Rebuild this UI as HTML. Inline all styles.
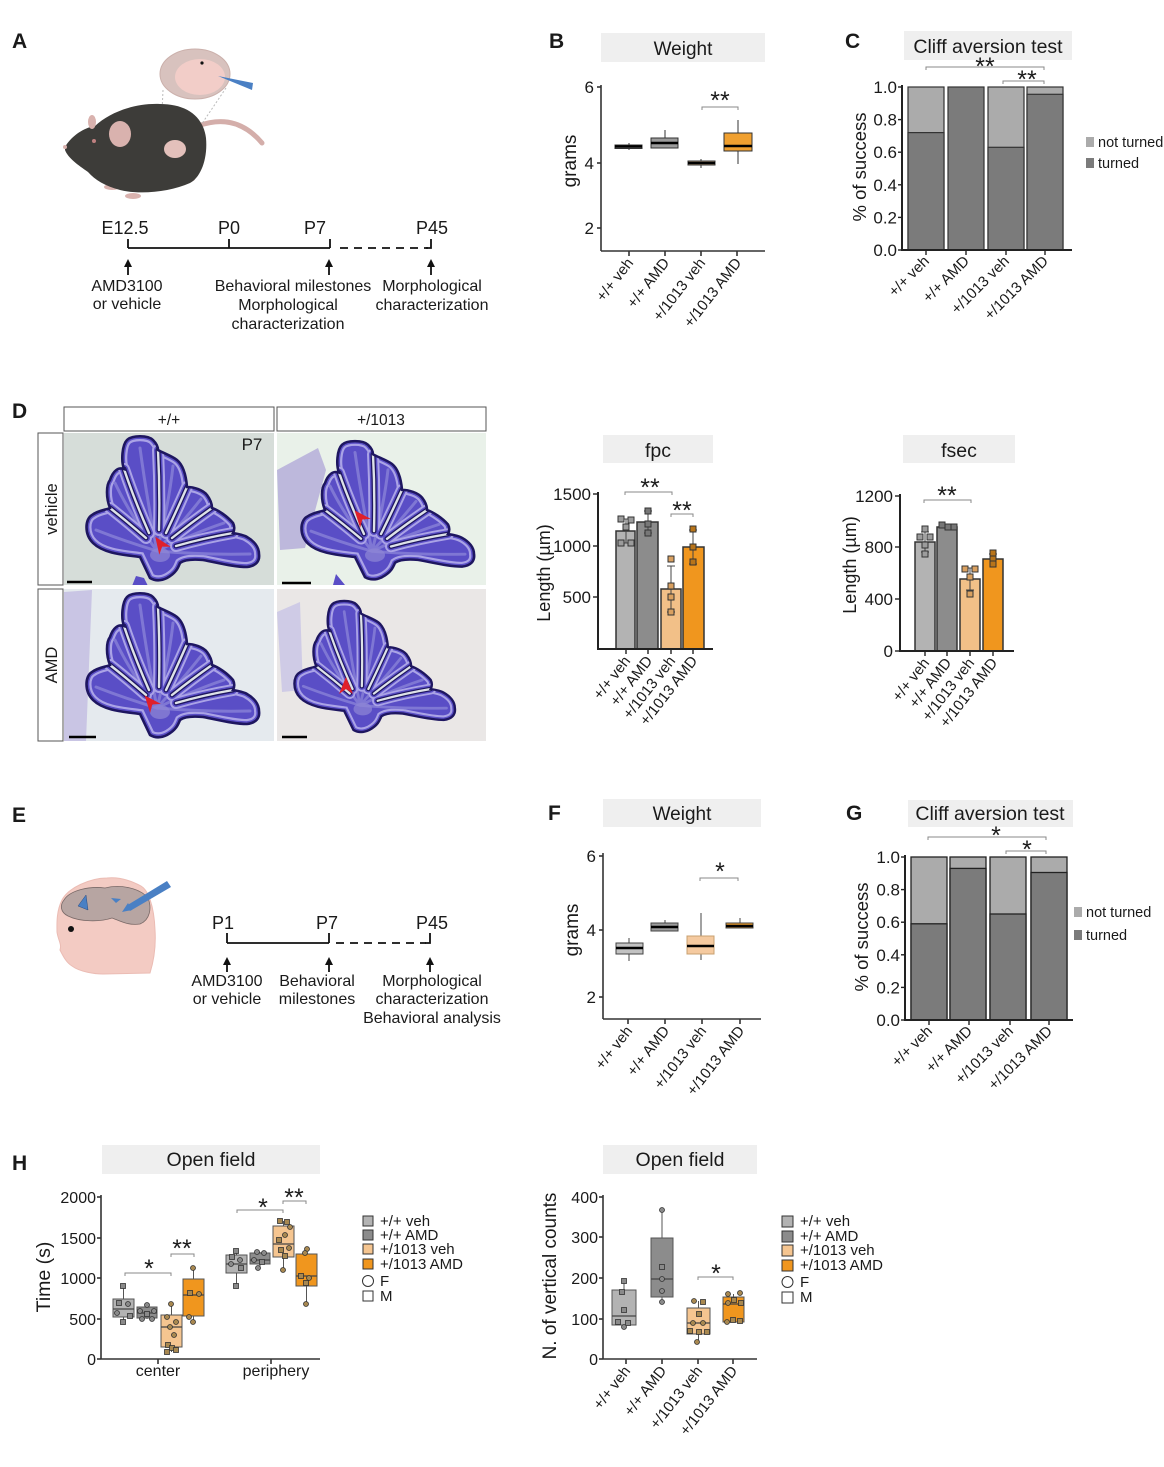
<!DOCTYPE html>
<html><head><meta charset="utf-8"><style>
html,body{margin:0;padding:0;background:#fff}
svg{display:block}
text{font-family:"Liberation Sans",Arial,sans-serif;fill:#1a1a1a}
.b{font-weight:bold}
</style></head><body>
<svg width="1164" height="1467" viewBox="0 0 1164 1467" xmlns="http://www.w3.org/2000/svg">
<defs>
<path id="cbpath" d="M86,145 L76,124 C62,122 40,121 29,110 C20,101 21,86 28,82 C35,77 42,77 46,75 C42,65 42,52 46,47 C49,38 54,34 60,36 C57,28 58,12 63,7 C68,2 84,2 89,7 C93,11 94,15 94,17 C99,20 108,23 113,27 C119,32 122,42 123,54 C130,54 139,57 143,62 C146,66 148,71 148,75 C154,77 163,83 169,90 C171,94 170,98 169,100 C175,101 180,102 183,104 C190,108 195,114 195,121 C196,128 192,133 183,134 C170,134 155,130 139,127 C128,126 120,127 116,130 C114,135 112,140 103,145 C97,148 91,148 86,145 Z"/>
<path id="fiss" d="M46,75 Q65,90 82,105 M60,36 Q70,66 85,100 M94,17 Q96,56 95,97 M123,54 Q112,79 102,100 M148,75 Q128,89 108,105 M169,100 Q140,105 112,113"/>
<clipPath id="cbclip"><use href="#cbpath"/></clipPath>
<g id="cb">
<use href="#cbpath" fill="#5a4ec6"/>
<g clip-path="url(#cbclip)">
<use href="#cbpath" fill="none" stroke="#aaa3e6" stroke-width="10"/>
<use href="#cbpath" fill="none" stroke="#5a4ec6" stroke-width="5.5"/>
<path d="M93,118 Q60,108 32,97 M93,118 Q65,80 51,50 M93,118 Q82,60 76,15 M93,118 Q105,70 109,33 M93,118 Q118,90 137,66 M93,118 Q130,100 160,90 M93,118 Q140,122 186,121" fill="none" stroke="#7f77d4" stroke-width="3" stroke-linecap="round"/>
<use href="#fiss" fill="none" stroke="#aaa3e6" stroke-width="12" stroke-linecap="round"/>
<use href="#fiss" fill="none" stroke="#5a4ec6" stroke-width="8" stroke-linecap="round"/>
<use href="#fiss" fill="none" stroke="#1e1660" stroke-width="5" stroke-linecap="round"/>
<use href="#fiss" fill="none" stroke="#dde2e6" stroke-width="2.4" stroke-linecap="round"/>
<ellipse cx="96" cy="122" rx="10" ry="7" fill="#8f88d6" opacity="0.7"/>
</g>
<use href="#cbpath" fill="none" stroke="#1e1660" stroke-width="2.6"/>
</g>
<clipPath id="c1"><rect x="64" y="433" width="210" height="152"/></clipPath>
<clipPath id="c2"><rect x="277" y="433" width="209" height="152"/></clipPath>
<clipPath id="c3"><rect x="64" y="589" width="210" height="152"/></clipPath>
<clipPath id="c4"><rect x="277" y="589" width="209" height="152"/></clipPath>
</defs>

<!-- ================= A ================= -->
<text x="12" y="48" font-size="21" class="b">A</text>
<path d="M198,126 C225,116 246,124 262,143" fill="none" stroke="#d4aeaa" stroke-width="5" stroke-linecap="round"/>
<line x1="163" y1="90" x2="162" y2="112" stroke="#bbb" stroke-dasharray="2,2"/>
<line x1="226" y1="88" x2="199" y2="128" stroke="#bbb" stroke-dasharray="2,2"/>
<ellipse cx="112" cy="187" rx="8" ry="3" fill="#d9b2ae"/>
<ellipse cx="133" cy="196" rx="8" ry="3" fill="#d9b2ae"/>
<ellipse cx="187" cy="179" rx="8" ry="3" fill="#d9b2ae"/>
<path d="M65,147 C70,138 82,128 95,126 C110,112 135,103 160,104 C185,104 203,115 206,138 C208,160 200,178 190,183 C170,192 140,195 120,190 C105,186 95,180 88,172 C78,165 68,158 65,150 Z" fill="#3d3c39"/>
<ellipse cx="92" cy="122" rx="4" ry="7" fill="#d9b2ae"/>
<ellipse cx="120" cy="134" rx="11" ry="13" fill="#d9b2ae"/>
<ellipse cx="175" cy="149" rx="11" ry="9" fill="#e3c0bb"/>
<circle cx="65" cy="147" r="2" fill="#d9b2ae"/>
<circle cx="94" cy="141" r="2" fill="#c08080"/>
<ellipse cx="195" cy="74" rx="35" ry="25" fill="#d8c2be" stroke="#cbb0ab"/>
<ellipse cx="200" cy="77" rx="25" ry="18" fill="#f2cdc8"/>
<circle cx="202" cy="63" r="1.6" fill="#111"/>
<polygon points="218,76 253,83 252,90" fill="#4a80c4"/>
<g stroke="#111" stroke-width="1.8" fill="none">
<line x1="128" y1="248" x2="330" y2="248"/>
<line x1="128" y1="239" x2="128" y2="248"/>
<line x1="229" y1="239" x2="229" y2="248"/>
<line x1="330" y1="239" x2="330" y2="248"/>
<line x1="340" y1="248" x2="428" y2="248" stroke-dasharray="8,6"/>
<polyline points="426,248 431,248 431,239"/>
<line x1="128" y1="264" x2="128" y2="275"/>
<line x1="329" y1="264" x2="329" y2="275"/>
<line x1="431" y1="264" x2="431" y2="275"/>
</g>
<g fill="#111">
<polygon points="124,267 128,259 132,267"/>
<polygon points="325,267 329,259 333,267"/>
<polygon points="427,267 431,259 435,267"/>
</g>
<g font-size="18" text-anchor="middle">
<text x="125" y="234">E12.5</text>
<text x="229" y="234">P0</text>
<text x="315" y="234">P7</text>
<text x="432" y="234">P45</text>
</g>
<g font-size="16" text-anchor="middle" style="fill:#222">
<text x="127" y="291">AMD3100</text>
<text x="127" y="309">or vehicle</text>
<text x="293" y="291">Behavioral milestones</text>
<text x="288" y="310">Morphological</text>
<text x="288" y="329">characterization</text>
<text x="432" y="291">Morphological</text>
<text x="432" y="310">characterization</text>
</g>

<!-- ================= B ================= -->
<text x="549" y="48" font-size="21" class="b">B</text>
<rect x="601" y="33" width="164" height="29" fill="#efefef"/>
<text x="683" y="55" font-size="19" text-anchor="middle">Weight</text>
<g stroke="#333" stroke-width="1.6">
<line x1="601" y1="85" x2="601" y2="251"/>
<line x1="601" y1="251" x2="765" y2="251"/>
<line x1="597" y1="87" x2="601" y2="87"/>
<line x1="597" y1="163" x2="601" y2="163"/>
<line x1="597" y1="228" x2="601" y2="228"/>
<line x1="629" y1="251" x2="629" y2="256"/>
<line x1="665" y1="251" x2="665" y2="256"/>
<line x1="701" y1="251" x2="701" y2="256"/>
<line x1="737" y1="251" x2="737" y2="256"/>
</g>
<g font-size="17" text-anchor="end">
<text x="594" y="93">6</text><text x="594" y="169">4</text><text x="594" y="234">2</text>
</g>
<text transform="translate(576,161) rotate(-90)" font-size="19" text-anchor="middle">grams</text>
<g stroke="#333" stroke-width="1">
<line x1="629" y1="143" x2="629" y2="150"/>
<rect x="615" y="145" width="27" height="3.5" fill="#b3b3b3"/>
<line x1="665" y1="130" x2="665" y2="138"/>
<rect x="651" y="138" width="27" height="10" fill="#9c9c9c"/>
<line x1="701" y1="159" x2="701" y2="168"/>
<rect x="688" y="161" width="27" height="4" fill="#f3c898"/>
<line x1="738" y1="120" x2="738" y2="164"/>
<rect x="724" y="133" width="28" height="18" fill="#f0a030"/>
</g>
<g stroke="#000" stroke-width="2.6">
<line x1="615" y1="146.5" x2="642" y2="146.5"/>
<line x1="651" y1="143" x2="678" y2="143"/>
<line x1="688" y1="163" x2="715" y2="163"/>
<line x1="724" y1="146" x2="752" y2="146"/>
</g>
<polyline points="702,110 702,107 738,107 738,110" fill="none" stroke="#888" stroke-width="1"/>
<text x="720" y="109" font-size="25" text-anchor="middle">**</text>
<g font-size="15" text-anchor="end">
<text transform="translate(634,263) rotate(-52)">+/+ veh</text>
<text transform="translate(670,263) rotate(-52)">+/+ AMD</text>
<text transform="translate(706,263) rotate(-52)">+/1013 veh</text>
<text transform="translate(742,263) rotate(-52)">+/1013 AMD</text>
</g>

<!-- ================= C ================= -->
<text x="845" y="48" font-size="21" class="b">C</text>
<rect x="904" y="31" width="168" height="29" fill="#efefef"/>
<text x="988" y="53" font-size="19.5" text-anchor="middle">Cliff aversion test</text>
<g stroke="#333" stroke-width="1.2">
<rect x="908" y="87" width="36" height="163" fill="#ababab"/>
<rect x="908" y="132.6" width="36" height="117.4" fill="#7b7b7b"/>
<rect x="948" y="87" width="36" height="163" fill="#7b7b7b"/>
<rect x="988" y="87" width="36" height="163" fill="#ababab"/>
<rect x="988" y="147.3" width="36" height="102.7" fill="#7b7b7b"/>
<rect x="1027" y="87" width="36" height="163" fill="#ababab"/>
<rect x="1027" y="94.3" width="36" height="155.7" fill="#7b7b7b"/>
</g>
<g stroke="#222" stroke-width="2">
<line x1="902" y1="85" x2="902" y2="251"/>
<line x1="901" y1="250" x2="1072" y2="250"/>
</g>
<g stroke="#222" stroke-width="1.4">
<line x1="898" y1="87" x2="902" y2="87"/><line x1="898" y1="119.6" x2="902" y2="119.6"/>
<line x1="898" y1="152.2" x2="902" y2="152.2"/><line x1="898" y1="184.8" x2="902" y2="184.8"/>
<line x1="898" y1="217.4" x2="902" y2="217.4"/><line x1="898" y1="250" x2="902" y2="250"/>
<line x1="926" y1="250" x2="926" y2="255"/><line x1="966" y1="250" x2="966" y2="255"/>
<line x1="1006" y1="250" x2="1006" y2="255"/><line x1="1045" y1="250" x2="1045" y2="255"/>
</g>
<g font-size="17" text-anchor="end">
<text x="897" y="93">1.0</text><text x="897" y="125.6">0.8</text><text x="897" y="158.2">0.6</text>
<text x="897" y="190.8">0.4</text><text x="897" y="223.4">0.2</text><text x="897" y="256">0.0</text>
</g>
<text transform="translate(866,167) rotate(-90)" font-size="18.5" text-anchor="middle">% of success</text>
<g fill="none" stroke="#888" stroke-width="1">
<polyline points="926,70 926,67 1044,67 1044,70"/>
<polyline points="1003,84 1003,81 1044,81 1044,84"/>
</g>
<text x="985" y="75" font-size="25" text-anchor="middle">**</text>
<text x="1027" y="88" font-size="25" text-anchor="middle">**</text>
<rect x="1086" y="137" width="8" height="10" fill="#ababab"/>
<text x="1098" y="147" font-size="14.5">not turned</text>
<rect x="1086" y="158" width="8" height="10" fill="#7b7b7b"/>
<text x="1098" y="168" font-size="14.5">turned</text>
<g font-size="15" text-anchor="end">
<text transform="translate(930,262) rotate(-45)">+/+ veh</text>
<text transform="translate(970,262) rotate(-45)">+/+ AMD</text>
<text transform="translate(1010,262) rotate(-45)">+/1013 veh</text>
<text transform="translate(1049,262) rotate(-45)">+/1013 AMD</text>
</g>

<!-- ================= D ================= -->
<text x="12" y="418" font-size="21" class="b">D</text>
<g fill="#fff" stroke="#555" stroke-width="1">
<rect x="64" y="407" width="210" height="24"/>
<rect x="277" y="407" width="209" height="24"/>
<rect x="38" y="433" width="25" height="152"/>
<rect x="38" y="589" width="25" height="152"/>
</g>
<text x="169" y="425" font-size="15.5" text-anchor="middle">+/+</text>
<text x="381" y="425" font-size="15.5" text-anchor="middle">+/1013</text>
<text transform="translate(57,509) rotate(-90)" font-size="16.5" text-anchor="middle">vehicle</text>
<text transform="translate(57,665) rotate(-90)" font-size="16.5" text-anchor="middle">AMD</text>
<rect x="64" y="433" width="210" height="152" fill="#d6ddd9"/>
<rect x="277" y="433" width="209" height="152" fill="#e9f1e9"/>
<rect x="64" y="589" width="210" height="152" fill="#e5eaee"/>
<rect x="277" y="589" width="209" height="152" fill="#eae7e6"/>
<g clip-path="url(#c1)">
<path d="M136,576 L132,586 L148,586 L144,578 Z" fill="#5a4ec6"/>
<use href="#cb" transform="translate(64,433)"/>
</g>
<g clip-path="url(#c2)">
<path d="M277,470 L318,448 L326,470 L305,548 L280,550 Z" fill="#bdb8dc"/>
<use href="#cb" transform="translate(279,438) scale(1,0.96)"/>
<path d="M336,574 L333,585 L345,585 Z" fill="#5a4ec6"/>
</g>
<g clip-path="url(#c3)">
<path d="M64,592 L92,590 L86,741 L64,741 Z" fill="#c9c5e4"/>
<use href="#cb" transform="translate(64,590)"/>
</g>
<g clip-path="url(#c4)">
<path d="M277,612 L300,602 L303,690 L282,692 Z" fill="#cfcbe6"/>
<use href="#cb" transform="translate(273.5,598) scale(0.93,0.91)"/>
</g>
<text x="252" y="450" font-size="17" text-anchor="middle">P7</text>
<g fill="#e0202a">
<path d="M0,-10 L7,7 L0,2 L-7,7 Z" transform="translate(161,545) rotate(-35)"/>
<path d="M0,-10 L7,7 L0,2 L-7,7 Z" transform="translate(361,518) rotate(-40)"/>
<path d="M0,-10 L7,7 L0,2 L-7,7 Z" transform="translate(151,703) rotate(-40)"/>
<path d="M0,-10 L7,7 L0,2 L-7,7 Z" transform="translate(346,687)"/>
</g>
<g stroke="#000" stroke-width="2.5">
<line x1="67" y1="582" x2="92" y2="582"/>
<line x1="282" y1="583" x2="311" y2="583"/>
<line x1="69" y1="737" x2="96" y2="737"/>
<line x1="282" y1="737" x2="307" y2="737"/>
</g>

<!-- ================= fpc ================= -->
<rect x="603" y="435" width="110" height="28" fill="#efefef"/>
<text x="658" y="457" font-size="19.5" text-anchor="middle">fpc</text>
<g stroke="#333" stroke-width="1.5">
<rect x="616" y="531" width="19" height="118" fill="#b3b3b3"/>
<rect x="637" y="522" width="21" height="127" fill="#8c8c8c"/>
<rect x="661" y="589" width="20" height="60" fill="#f2c088"/>
<rect x="683" y="547" width="21" height="102" fill="#f0961e"/>
</g>
<g stroke="#222" stroke-width="2">
<line x1="598" y1="492" x2="598" y2="649"/>
<line x1="597" y1="649" x2="713" y2="649"/>
</g>
<g stroke="#222" stroke-width="1.4">
<line x1="593" y1="494" x2="598" y2="494"/><line x1="593" y1="546" x2="598" y2="546"/><line x1="593" y1="597" x2="598" y2="597"/>
<line x1="626" y1="649" x2="626" y2="654"/><line x1="648" y1="649" x2="648" y2="654"/>
<line x1="671" y1="649" x2="671" y2="654"/><line x1="693" y1="649" x2="693" y2="654"/>
</g>
<g font-size="17" text-anchor="end">
<text x="591" y="500">1500</text><text x="591" y="552">1000</text><text x="591" y="603">500</text>
</g>
<text transform="translate(550,573) rotate(-90)" font-size="18" text-anchor="middle">Length (µm)</text>
<g stroke="#444" stroke-width="1" fill="none">
<path d="M626,519 V543 M622,519 H630 M622,543 H630"/>
<path d="M648,511 V533 M644,511 H652 M644,533 H652"/>
<path d="M671,566 V612 M667,566 H675 M667,612 H675"/>
<path d="M693,530 V564 M689,530 H697 M689,564 H697"/>
</g>
<g stroke="#333" stroke-width="1">
<g fill="#9c9c9c"><rect x="618" y="516" width="6" height="6"/><rect x="628" y="517" width="6" height="6"/><rect x="623" y="524" width="6" height="6"/><rect x="618" y="540" width="6" height="6"/><rect x="628" y="540" width="6" height="6"/></g>
<g fill="#777"><rect x="645" y="508" width="6" height="6"/><rect x="645" y="521" width="6" height="6"/><rect x="645" y="530" width="6" height="6"/></g>
<g fill="#d9a060"><rect x="668" y="556" width="6" height="6"/><rect x="668" y="583" width="6" height="6"/><rect x="668" y="594" width="6" height="6"/><rect x="668" y="609" width="6" height="6"/></g>
<g fill="#b8741a"><rect x="690" y="526" width="6" height="6"/><rect x="690" y="544" width="6" height="6"/><rect x="690" y="559" width="6" height="6"/></g>
</g>
<g fill="none" stroke="#888" stroke-width="1">
<polyline points="625,495 625,492 672,492 672,495"/>
<polyline points="671,517 671,514 693,514 693,517"/>
</g>
<text x="650" y="496" font-size="25" text-anchor="middle">**</text>
<text x="682" y="519" font-size="25" text-anchor="middle">**</text>
<g font-size="15" text-anchor="end">
<text transform="translate(631,661) rotate(-52)">+/+ veh</text>
<text transform="translate(653,661) rotate(-52)">+/+ AMD</text>
<text transform="translate(676,661) rotate(-52)">+/1013 veh</text>
<text transform="translate(698,661) rotate(-52)">+/1013 AMD</text>
</g>

<!-- ================= fsec ================= -->
<rect x="903" y="435" width="112" height="28" fill="#efefef"/>
<text x="959" y="457" font-size="19.5" text-anchor="middle">fsec</text>
<g stroke="#333" stroke-width="1.5">
<rect x="915" y="542" width="20" height="109" fill="#b3b3b3"/>
<rect x="937" y="527" width="20" height="124" fill="#8c8c8c"/>
<rect x="960" y="579" width="20" height="72" fill="#f2c088"/>
<rect x="983" y="559" width="20" height="92" fill="#f0961e"/>
</g>
<g stroke="#222" stroke-width="2">
<line x1="900" y1="494" x2="900" y2="651"/>
<line x1="899" y1="651" x2="1014" y2="651"/>
</g>
<g stroke="#222" stroke-width="1.4">
<line x1="895" y1="496" x2="900" y2="496"/><line x1="895" y1="547" x2="900" y2="547"/>
<line x1="895" y1="599" x2="900" y2="599"/><line x1="895" y1="651" x2="900" y2="651"/>
<line x1="925" y1="651" x2="925" y2="656"/><line x1="947" y1="651" x2="947" y2="656"/>
<line x1="970" y1="651" x2="970" y2="656"/><line x1="993" y1="651" x2="993" y2="656"/>
</g>
<g font-size="17" text-anchor="end">
<text x="893" y="502">1200</text><text x="893" y="553">800</text><text x="893" y="605">400</text><text x="893" y="657">0</text>
</g>
<text transform="translate(856,565) rotate(-90)" font-size="18" text-anchor="middle">Length (µm)</text>
<g stroke="#444" stroke-width="1" fill="none">
<path d="M925,532 V552 M921,532 H929 M921,552 H929"/>
<path d="M947,524 V530 M943,524 H951"/>
<path d="M970,568 V590 M966,568 H974 M966,590 H974"/>
<path d="M993,554 V564 M989,554 H997"/>
</g>
<g stroke="#333" stroke-width="1">
<g fill="#9c9c9c"><rect x="922" y="526" width="6" height="6"/><rect x="917" y="534" width="6" height="6"/><rect x="927" y="534" width="6" height="6"/><rect x="922" y="542" width="6" height="6"/><rect x="922" y="551" width="6" height="6"/></g>
<g fill="#777"><rect x="939" y="522" width="6" height="6"/><rect x="945" y="524" width="6" height="6"/><rect x="951" y="524" width="6" height="6"/></g>
<g fill="#d9a060"><rect x="962" y="566" width="6" height="6"/><rect x="972" y="566" width="6" height="6"/><rect x="967" y="574" width="6" height="6"/><rect x="967" y="591" width="6" height="6"/></g>
<g fill="#b8741a"><rect x="990" y="550" width="6" height="6"/><rect x="990" y="556" width="6" height="6"/><rect x="990" y="561" width="6" height="6"/></g>
</g>
<polyline points="924,503 924,500 971,500 971,503" fill="none" stroke="#888" stroke-width="1"/>
<text x="947" y="504" font-size="25" text-anchor="middle">**</text>
<g font-size="15" text-anchor="end">
<text transform="translate(930,663) rotate(-52)">+/+ veh</text>
<text transform="translate(952,663) rotate(-52)">+/+ AMD</text>
<text transform="translate(975,663) rotate(-52)">+/1013 veh</text>
<text transform="translate(998,663) rotate(-52)">+/1013 AMD</text>
</g>

<!-- ================= E ================= -->
<text x="12" y="822" font-size="21" class="b">E</text>
<path d="M107,878 C90,878 68,888 62,900 C56,912 57,925 57,932 C58,940 62,944 60,950 C64,958 67,963 72,966 C80,972 95,974 103,974 L150,973 C154,960 156,945 155,930 C154,905 148,890 141,886 C130,880 118,877 107,878 Z" fill="#f3cbc3" stroke="#ebbcb4"/>
<path d="M64,900 C70,890 90,886 105,888 C120,884 140,888 148,898 C152,908 150,920 140,924 C128,926 118,920 112,918 C100,922 80,922 68,916 C60,912 60,905 64,900 Z" fill="#b7a5a2" stroke="#7a6a68" stroke-width="0.8"/>
<polygon points="78,906 86,895 88,910" fill="#4a80c4" stroke="#2a4a80" stroke-width="0.5"/>
<polygon points="111,898 121,899 116,903" fill="#4a80c4"/>
<polygon points="167,881 171,887 130,911 126,906" fill="#4a80c4"/>
<polygon points="122,912 128,903 132,910" fill="#4a80c4"/>
<circle cx="71" cy="929" r="3" fill="#111"/>
<g stroke="#111" stroke-width="1.8" fill="none">
<line x1="227" y1="943" x2="329" y2="943"/>
<line x1="227" y1="933" x2="227" y2="943"/>
<line x1="329" y1="933" x2="329" y2="943"/>
<line x1="336" y1="943" x2="426" y2="943" stroke-dasharray="8,6"/>
<polyline points="425,943 430,943 430,933"/>
<line x1="227" y1="962" x2="227" y2="972"/>
<line x1="329" y1="962" x2="329" y2="972"/>
<line x1="430" y1="962" x2="430" y2="972"/>
</g>
<g fill="#111">
<polygon points="223,965 227,957 231,965"/>
<polygon points="325,965 329,957 333,965"/>
<polygon points="426,965 430,957 434,965"/>
</g>
<g font-size="18" text-anchor="middle">
<text x="223" y="929">P1</text><text x="327" y="929">P7</text><text x="432" y="929">P45</text>
</g>
<g font-size="16" text-anchor="middle" style="fill:#222">
<text x="227" y="986">AMD3100</text>
<text x="227" y="1004">or vehicle</text>
<text x="317" y="986">Behavioral</text>
<text x="317" y="1004">milestones</text>
<text x="432" y="986">Morphological</text>
<text x="432" y="1004">characterization</text>
<text x="432" y="1023">Behavioral analysis</text>
</g>

<!-- ================= F ================= -->
<text x="548" y="820" font-size="21" class="b">F</text>
<rect x="603" y="799" width="158" height="28" fill="#efefef"/>
<text x="682" y="820" font-size="19" text-anchor="middle">Weight</text>
<g stroke="#333" stroke-width="1.6">
<line x1="603" y1="853" x2="603" y2="1019"/>
<line x1="603" y1="1019" x2="761" y2="1019"/>
<line x1="599" y1="856" x2="603" y2="856"/><line x1="599" y1="930" x2="603" y2="930"/><line x1="599" y1="997" x2="603" y2="997"/>
<line x1="628" y1="1019" x2="628" y2="1024"/><line x1="665" y1="1019" x2="665" y2="1024"/>
<line x1="702" y1="1019" x2="702" y2="1024"/><line x1="740" y1="1019" x2="740" y2="1024"/>
</g>
<g font-size="17" text-anchor="end">
<text x="596" y="862">6</text><text x="596" y="936">4</text><text x="596" y="1003">2</text>
</g>
<text transform="translate(578,930) rotate(-90)" font-size="19" text-anchor="middle">grams</text>
<g stroke="#444" stroke-width="1">
<line x1="629" y1="938" x2="629" y2="961"/>
<rect x="616" y="943" width="27" height="11" fill="#c2c2c2"/>
<line x1="665" y1="920" x2="665" y2="923"/>
<rect x="651" y="923" width="27" height="8" fill="#9c9c9c"/>
<line x1="701" y1="913" x2="701" y2="960"/>
<rect x="687" y="936" width="27" height="18" fill="#f5caa0" stroke="#c8a070"/>
<line x1="740" y1="918" x2="740" y2="923"/>
<rect x="726" y="923" width="27" height="5" fill="#f0a030"/>
</g>
<g stroke="#000" stroke-width="2.6">
<line x1="616" y1="948" x2="643" y2="948"/>
<line x1="651" y1="927" x2="678" y2="927"/>
<line x1="687" y1="946" x2="714" y2="946"/>
<line x1="726" y1="926" x2="753" y2="926"/>
</g>
<polyline points="700,881 700,878 738,878 738,881" fill="none" stroke="#888" stroke-width="1"/>
<text x="720" y="880" font-size="25" text-anchor="middle">*</text>
<g font-size="15" text-anchor="end">
<text transform="translate(633,1031) rotate(-52)">+/+ veh</text>
<text transform="translate(670,1031) rotate(-52)">+/+ AMD</text>
<text transform="translate(707,1031) rotate(-52)">+/1013 veh</text>
<text transform="translate(745,1031) rotate(-52)">+/1013 AMD</text>
</g>

<!-- ================= G ================= -->
<text x="846" y="820" font-size="21" class="b">G</text>
<rect x="908" y="800" width="165" height="27" fill="#efefef"/>
<text x="990" y="820" font-size="19.5" text-anchor="middle">Cliff aversion test</text>
<g stroke="#222" stroke-width="1.3">
<rect x="911" y="857" width="36" height="163" fill="#ababab"/>
<rect x="911" y="923.8" width="36" height="96.2" fill="#7b7b7b"/>
<rect x="950" y="857" width="36" height="163" fill="#ababab"/>
<rect x="950" y="868.4" width="36" height="151.6" fill="#7b7b7b"/>
<rect x="990" y="857" width="36" height="163" fill="#ababab"/>
<rect x="990" y="914" width="36" height="106" fill="#7b7b7b"/>
<rect x="1031" y="857" width="36" height="163" fill="#ababab"/>
<rect x="1031" y="872.5" width="36" height="147.5" fill="#7b7b7b"/>
</g>
<g stroke="#222" stroke-width="2">
<line x1="905" y1="855" x2="905" y2="1021"/>
<line x1="904" y1="1020" x2="1073" y2="1020"/>
</g>
<g stroke="#222" stroke-width="1.4">
<line x1="901" y1="857" x2="905" y2="857"/><line x1="901" y1="889.6" x2="905" y2="889.6"/>
<line x1="901" y1="922.2" x2="905" y2="922.2"/><line x1="901" y1="954.8" x2="905" y2="954.8"/>
<line x1="901" y1="987.4" x2="905" y2="987.4"/><line x1="901" y1="1020" x2="905" y2="1020"/>
<line x1="929" y1="1020" x2="929" y2="1025"/><line x1="969" y1="1020" x2="969" y2="1025"/>
<line x1="1010" y1="1020" x2="1010" y2="1025"/><line x1="1049" y1="1020" x2="1049" y2="1025"/>
</g>
<g font-size="17" text-anchor="end">
<text x="900" y="863">1.0</text><text x="900" y="895.6">0.8</text><text x="900" y="928.2">0.6</text>
<text x="900" y="960.8">0.4</text><text x="900" y="993.4">0.2</text><text x="900" y="1026">0.0</text>
</g>
<text transform="translate(868,937) rotate(-90)" font-size="18.5" text-anchor="middle">% of success</text>
<g fill="none" stroke="#888" stroke-width="1">
<polyline points="928,840 928,837 1046,837 1046,840"/>
<polyline points="1006,854 1006,851 1046,851 1046,854"/>
</g>
<text x="996" y="844" font-size="25" text-anchor="middle">*</text>
<text x="1027" y="858" font-size="25" text-anchor="middle">*</text>
<rect x="1074" y="907" width="8" height="10" fill="#ababab"/>
<text x="1086" y="917" font-size="14.5">not turned</text>
<rect x="1074" y="930" width="8" height="10" fill="#7b7b7b"/>
<text x="1086" y="940" font-size="14.5">turned</text>
<g font-size="15" text-anchor="end">
<text transform="translate(933,1032) rotate(-45)">+/+ veh</text>
<text transform="translate(973,1032) rotate(-45)">+/+ AMD</text>
<text transform="translate(1014,1032) rotate(-45)">+/1013 veh</text>
<text transform="translate(1053,1032) rotate(-45)">+/1013 AMD</text>
</g>

<!-- ================= H ================= -->
<text x="12" y="1170" font-size="21" class="b">H</text>
<rect x="102" y="1145" width="218" height="29" fill="#efefef"/>
<text x="211" y="1166" font-size="19.5" text-anchor="middle">Open field</text>
<g stroke="#333" stroke-width="1.6">
<line x1="101" y1="1195" x2="101" y2="1359"/>
<line x1="101" y1="1359" x2="320" y2="1359"/>
<line x1="97" y1="1197" x2="101" y2="1197"/><line x1="97" y1="1238" x2="101" y2="1238"/>
<line x1="97" y1="1278" x2="101" y2="1278"/><line x1="97" y1="1319" x2="101" y2="1319"/>
<line x1="97" y1="1359" x2="101" y2="1359"/>
<line x1="158" y1="1359" x2="158" y2="1364"/><line x1="271" y1="1359" x2="271" y2="1364"/>
</g>
<g font-size="16" text-anchor="end">
<text x="96" y="1203">2000</text><text x="96" y="1244">1500</text><text x="96" y="1284">1000</text>
<text x="96" y="1325">500</text><text x="96" y="1365">0</text>
</g>
<text transform="translate(50,1277) rotate(-90)" font-size="19.5" text-anchor="middle">Time (s)</text>
<text x="158" y="1376" font-size="16" text-anchor="middle">center</text>
<text x="276" y="1376" font-size="16" text-anchor="middle">periphery</text>
<g stroke="#555" stroke-width="1">
<line x1="123.5" y1="1286" x2="123.5" y2="1321"/>
<rect x="113" y="1299" width="21" height="18" fill="#b3b3b3"/>
<line x1="147" y1="1305" x2="147" y2="1319"/>
<rect x="137" y="1307" width="20" height="11" fill="#8c8c8c"/>
<line x1="171.5" y1="1304" x2="171.5" y2="1352"/>
<rect x="161" y="1315" width="21" height="32" fill="#f5c590"/>
<line x1="193.5" y1="1269" x2="193.5" y2="1322"/>
<rect x="183" y="1279" width="21" height="37" fill="#f0961e"/>
<line x1="236.5" y1="1251" x2="236.5" y2="1286"/>
<rect x="226" y="1255" width="21" height="18" fill="#b3b3b3"/>
<line x1="260" y1="1252" x2="260" y2="1268"/>
<rect x="250" y="1253" width="20" height="11" fill="#8c8c8c"/>
<line x1="283.5" y1="1221" x2="283.5" y2="1268"/>
<rect x="273" y="1226" width="21" height="31" fill="#f5c590"/>
<line x1="306.5" y1="1249" x2="306.5" y2="1304"/>
<rect x="296" y="1254" width="21" height="32" fill="#f0961e"/>
</g>
<g stroke="#444" stroke-width="1.2">
<line x1="113" y1="1309" x2="134" y2="1309"/>
<line x1="137" y1="1313" x2="157" y2="1313"/>
<line x1="161" y1="1327" x2="182" y2="1327"/>
<line x1="183" y1="1295" x2="204" y2="1295"/>
<line x1="226" y1="1264" x2="247" y2="1264"/>
<line x1="250" y1="1260" x2="270" y2="1260"/>
<line x1="273" y1="1244" x2="294" y2="1244"/>
<line x1="296" y1="1276" x2="317" y2="1276"/>
</g>
<g stroke="#333" stroke-width="0.8">
<g fill="#8a8a8a">
<rect x="120.5" y="1283.5" width="5" height="5"/><rect x="116.5" y="1300.5" width="5" height="5"/><circle cx="128" cy="1304" r="2.5"/><rect x="127.5" y="1313.5" width="5" height="5"/><circle cx="117" cy="1313" r="2.5"/><rect x="120.5" y="1319.5" width="5" height="5"/>
<circle cx="147" cy="1305" r="2.5"/><circle cx="140" cy="1311" r="2.5"/><circle cx="154" cy="1311" r="2.5"/><rect x="144.5" y="1311.5" width="5" height="5"/><circle cx="142" cy="1319" r="2.5"/><circle cx="152" cy="1319" r="2.5"/>
<rect x="233.5" y="1248.5" width="5" height="5"/><rect x="229.5" y="1254.5" width="5" height="5"/><circle cx="240" cy="1260" r="2.5"/><circle cx="231" cy="1264" r="2.5"/><rect x="238.5" y="1265.5" width="5" height="5"/><rect x="233.5" y="1283.5" width="5" height="5"/>
<circle cx="257" cy="1252" r="2.5"/><circle cx="264" cy="1253" r="2.5"/><circle cx="254" cy="1260" r="2.5"/><rect x="259.5" y="1259.5" width="5" height="5"/><circle cx="258" cy="1268" r="2.5"/>
</g>
<g fill="#a88850">
<circle cx="171" cy="1304" r="2.5"/><circle cx="167" cy="1317" r="2.5"/><circle cx="176" cy="1322" r="2.5"/><circle cx="170" cy="1327" r="2.5"/><circle cx="174" cy="1335" r="2.5"/><rect x="165.5" y="1342.5" width="5" height="5"/><rect x="169.5" y="1345.5" width="5" height="5"/><rect x="164.5" y="1349.5" width="5" height="5"/><rect x="173.5" y="1347.5" width="5" height="5"/>
<circle cx="193" cy="1268" r="2.5"/><rect x="187.5" y="1290.5" width="5" height="5"/><circle cx="199" cy="1294" r="2.5"/><circle cx="189" cy="1317" r="2.5"/><circle cx="193" cy="1322" r="2.5"/>
<rect x="277.5" y="1218.5" width="5" height="5"/><rect x="284.5" y="1219.5" width="5" height="5"/><circle cx="290" cy="1227" r="2.5"/><circle cx="285" cy="1235" r="2.5"/><rect x="276.5" y="1237.5" width="5" height="5"/><circle cx="289" cy="1248" r="2.5"/><rect x="278.5" y="1247.5" width="5" height="5"/><rect x="282.5" y="1253.5" width="5" height="5"/><circle cx="283" cy="1270" r="2.5"/>
<circle cx="307" cy="1249" r="2.5"/><circle cx="305" cy="1253" r="2.5"/><rect x="298.5" y="1273.5" width="5" height="5"/><circle cx="309" cy="1278" r="2.5"/><rect x="303.5" y="1280.5" width="5" height="5"/><circle cx="306" cy="1304" r="2.5"/>
</g>
</g>
<g fill="none" stroke="#888" stroke-width="1">
<polyline points="125,1276 125,1273 171,1273 171,1276"/>
<polyline points="171,1257 171,1254 194,1254 194,1257"/>
<polyline points="237,1213 237,1210 283,1210 283,1213"/>
<polyline points="283,1204 283,1201 306,1201 306,1204"/>
</g>
<text x="149" y="1277" font-size="25" text-anchor="middle">*</text>
<text x="182" y="1257" font-size="25" text-anchor="middle">**</text>
<text x="263" y="1216" font-size="25" text-anchor="middle">*</text>
<text x="294" y="1206" font-size="25" text-anchor="middle">**</text>
<g stroke="#333" stroke-width="1">
<rect x="363" y="1216" width="10" height="10" fill="#b3b3b3"/>
<rect x="363" y="1230" width="10" height="10" fill="#8c8c8c"/>
<rect x="363" y="1244" width="10" height="10" fill="#f5c590"/>
<rect x="363" y="1259" width="10" height="10" fill="#f0961e"/>
<circle cx="368" cy="1281" r="5.5" fill="#fff"/>
<rect x="363" y="1291" width="10" height="10" fill="#fff"/>
</g>
<g font-size="15">
<text x="380" y="1226">+/+ veh</text>
<text x="380" y="1240">+/+ AMD</text>
<text x="380" y="1254">+/1013 veh</text>
<text x="380" y="1269">+/1013 AMD</text>
<text x="380" y="1286">F</text>
<text x="380" y="1301">M</text>
</g>

<!-- ================= vertical counts ================= -->
<rect x="603" y="1145" width="154" height="29" fill="#efefef"/>
<text x="680" y="1166" font-size="19.5" text-anchor="middle">Open field</text>
<g stroke="#333" stroke-width="1.6">
<line x1="603" y1="1195" x2="603" y2="1359"/>
<line x1="603" y1="1359" x2="757" y2="1359"/>
<line x1="599" y1="1197" x2="603" y2="1197"/><line x1="599" y1="1237" x2="603" y2="1237"/>
<line x1="599" y1="1278" x2="603" y2="1278"/><line x1="599" y1="1319" x2="603" y2="1319"/>
<line x1="599" y1="1359" x2="603" y2="1359"/>
<line x1="626" y1="1359" x2="626" y2="1364"/><line x1="662" y1="1359" x2="662" y2="1364"/>
<line x1="698" y1="1359" x2="698" y2="1364"/><line x1="733" y1="1359" x2="733" y2="1364"/>
</g>
<g font-size="16" text-anchor="end">
<text x="598" y="1203">400</text><text x="598" y="1243">300</text><text x="598" y="1284">200</text>
<text x="598" y="1325">100</text><text x="598" y="1365">0</text>
</g>
<text transform="translate(556,1276) rotate(-90)" font-size="19" text-anchor="middle">N. of vertical counts</text>
<g stroke="#555" stroke-width="1">
<line x1="624" y1="1281" x2="624" y2="1327"/>
<rect x="612" y="1290" width="24" height="35" fill="#b3b3b3"/>
<line x1="662" y1="1210" x2="662" y2="1302"/>
<rect x="651" y="1238" width="22" height="59" fill="#8c8c8c"/>
<line x1="698.5" y1="1301" x2="698.5" y2="1342"/>
<rect x="687" y="1308" width="23" height="26" fill="#f5c590"/>
<line x1="733.5" y1="1294" x2="733.5" y2="1322"/>
<rect x="723" y="1297" width="21" height="25" fill="#f0961e"/>
</g>
<g stroke="#444" stroke-width="1.2">
<line x1="612" y1="1316" x2="636" y2="1316"/>
<line x1="651" y1="1279" x2="673" y2="1279"/>
<line x1="687" y1="1323" x2="710" y2="1323"/>
<line x1="723" y1="1304" x2="744" y2="1304"/>
</g>
<g stroke="#333" stroke-width="0.8">
<g fill="#8a8a8a">
<rect x="621.5" y="1278.5" width="5" height="5"/><rect x="619.5" y="1289.5" width="5" height="5"/><rect x="621.5" y="1307.5" width="5" height="5"/><rect x="615.5" y="1319.5" width="5" height="5"/><rect x="625.5" y="1320.5" width="5" height="5"/><circle cx="624" cy="1327" r="2.5"/>
<circle cx="662" cy="1210" r="2.5"/><rect x="659.5" y="1264.5" width="5" height="5"/><circle cx="662" cy="1279" r="2.5"/><circle cx="662" cy="1291" r="2.5"/><circle cx="662" cy="1302" r="2.5"/>
</g>
<g fill="#a88850">
<circle cx="694" cy="1301" r="2.5"/><rect x="700.5" y="1299.5" width="5" height="5"/><rect x="696.5" y="1311.5" width="5" height="5"/><circle cx="693" cy="1323" r="2.5"/><circle cx="703" cy="1323" r="2.5"/><rect x="687.5" y="1328.5" width="5" height="5"/><rect x="696.5" y="1329.5" width="5" height="5"/><rect x="704.5" y="1329.5" width="5" height="5"/><circle cx="697" cy="1342" r="2.5"/>
<circle cx="728" cy="1294" r="2.5"/><circle cx="740" cy="1293" r="2.5"/><rect x="731.5" y="1297.5" width="5" height="5"/><circle cx="728" cy="1303" r="2.5"/><rect x="738.5" y="1300.5" width="5" height="5"/><rect x="730.5" y="1317.5" width="5" height="5"/><circle cx="727" cy="1322" r="2.5"/><rect x="737.5" y="1318.5" width="5" height="5"/>
</g>
</g>
<polyline points="698,1280 698,1277 733,1277 733,1280" fill="none" stroke="#888" stroke-width="1"/>
<text x="716" y="1282" font-size="25" text-anchor="middle">*</text>
<g font-size="15" text-anchor="end">
<text transform="translate(631,1371) rotate(-52)">+/+ veh</text>
<text transform="translate(667,1371) rotate(-52)">+/+ AMD</text>
<text transform="translate(703,1371) rotate(-52)">+/1013 veh</text>
<text transform="translate(738,1371) rotate(-52)">+/1013 AMD</text>
</g>
<g stroke="#333" stroke-width="1">
<rect x="782" y="1216" width="11" height="11" fill="#b3b3b3"/>
<rect x="782" y="1231" width="11" height="11" fill="#8c8c8c"/>
<rect x="782" y="1245" width="11" height="11" fill="#f5c590"/>
<rect x="782" y="1260" width="11" height="11" fill="#f0961e"/>
<circle cx="787.5" cy="1282" r="5.5" fill="#fff"/>
<rect x="782" y="1292" width="11" height="11" fill="#fff"/>
</g>
<g font-size="15">
<text x="800" y="1226">+/+ veh</text>
<text x="800" y="1241">+/+ AMD</text>
<text x="800" y="1255">+/1013 veh</text>
<text x="800" y="1270">+/1013 AMD</text>
<text x="800" y="1287">F</text>
<text x="800" y="1302">M</text>
</g>
</svg>
</body></html>
